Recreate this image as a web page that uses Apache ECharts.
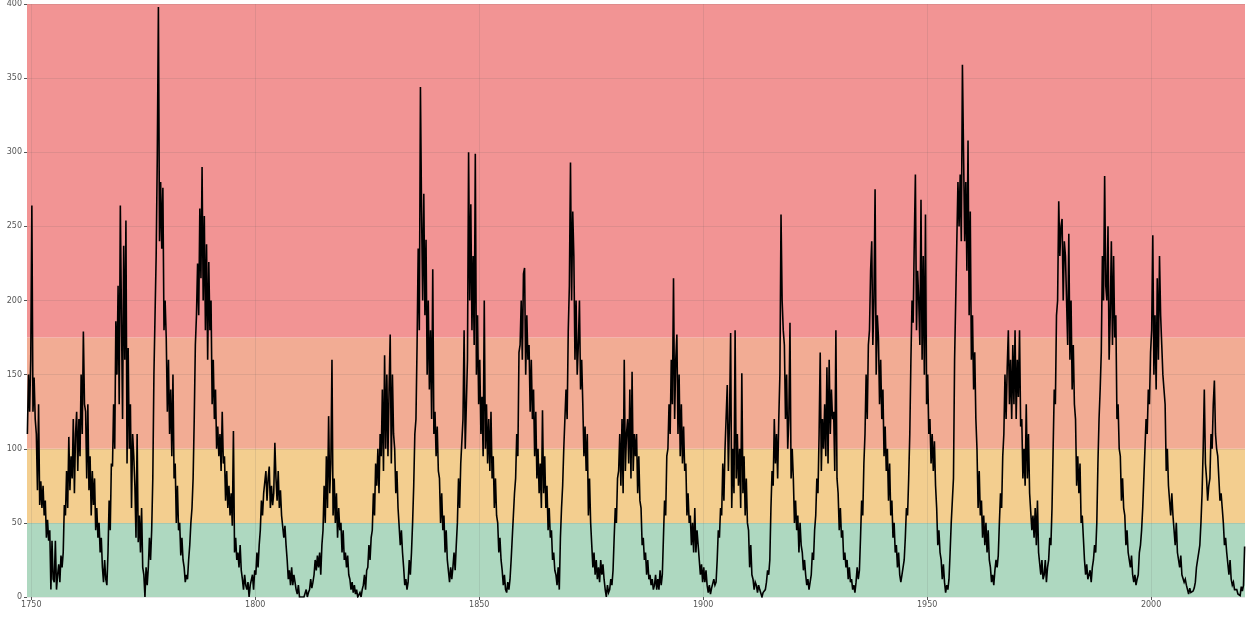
<!DOCTYPE html>
<html>
<head>
<meta charset="utf-8">
<script src="https://cdn.jsdelivr.net/npm/echarts@6/dist/echarts.min.js"></script>
<style>
  html, body { margin: 0; padding: 0; background: #ffffff; }
  #chart { width: 1248px; height: 617px; }
</style>
</head>
<body>
<div id="chart"></div>
<script>
// Sunspot number, four readings per year (one per quarter), grouped by 25-year spans.
// Each row is one calendar year, starting from the year named in the array.
const ssn1749 = [
  [110,150,125,160],[264,125,148,120],[110,72,130,62],[78,60,75,55],[65,40,52,38],
  [45,5,38,12],[10,38,5,15],[22,10,28,20],[30,62,55,85],[60,108,72,95],
  [80,120,70,110],[125,85,120,95],[150,110,179,130],[125,80,130,72],[95,55,85,62],
  [80,45,60,40],[50,30,40,20],[10,25,12,8],[30,65,45,90],[88,130,100,186],
  [150,210,130,264],[190,120,237,160],[254,90,168,100],[130,60,110,95],[75,40,110,37]
];
const ssn1774 = [
  [55,30,60,20],[15,0,20,8],[20,40,25,45],[80,150,190,230],[296,398,240,280],
  [235,276,180,200],[175,125,160,110],[140,95,150,80],[90,50,75,45],[50,28,40,25],
  [20,10,15,12],[25,35,50,60],[80,120,170,190],[225,190,262,215],[290,200,257,180],
  [238,160,226,180],[200,130,160,120],[140,100,115,95],[110,85,125,90],[95,65,85,60],
  [75,55,70,48],[112,30,40,25],[30,20,35,18],[12,5,15,8],[5,10,0,8]
];
const ssn1799 = [
  [8,15,5,18],[15,30,20,35],[45,65,55,70],[70,85,65,80],[88,60,75,62],
  [70,104,80,65],[85,60,72,55],[55,40,48,35],[25,12,18,8],[20,8,15,10],
  [5,2,8,0],[0,0,0,0],[0,5,0,3],[5,12,6,10],[15,25,18,28],
  [20,30,15,35],[45,75,50,95],[60,122,70,90],[160,55,80,50],[70,40,60,45],
  [50,30,45,25],[30,20,28,15],[12,5,10,3],[8,2,5,0],[0,3,0,5]
];
const ssn1824 = [
  [8,15,5,18],[20,35,25,40],[45,70,55,90],[75,100,70,110],[95,140,85,163],
  [100,150,95,140],[177,90,150,110],[100,70,85,60],[60,35,45,30],[20,8,12,5],
  [10,25,15,30],[50,75,110,120],[170,235,180,344],[260,200,272,190],[241,150,200,140],
  [180,120,221,110],[125,95,115,85],[80,50,70,45],[55,30,45,25],[25,10,20,12],
  [20,30,18,35],[50,80,60,90],[90,120,180,100],[130,160,300,200],[265,180,230,170]
];
const ssn1849 = [
  [299,150,190,130],[160,110,135,95],[200,100,130,90],[120,85,125,80],[95,60,80,55],
  [50,30,40,25],[18,8,15,5],[3,10,5,12],[25,40,55,70],[80,110,95,165],
  [170,200,160,218],[222,150,190,160],[170,125,160,120],[140,95,125,80],[100,70,90,60],
  [126,70,95,60],[75,45,60,40],[45,25,30,18],[15,8,20,5],[40,60,75,100],
  [100,140,120,180],[210,293,200,260],[230,160,200,150],[170,200,140,160],[130,95,115,85]
];
const ssn1874 = [
  [110,55,80,50],[35,20,30,15],[25,12,20,10],[25,15,22,12],[5,0,8,3],
  [5,12,8,18],[40,60,50,80],[85,110,75,120],[70,160,85,110],[120,90,140,80],
  [152,85,110,95],[110,70,95,65],[60,35,40,25],[30,15,25,12],[15,8,12,5],
  [8,15,5,12],[5,18,8,15],[40,65,55,95],[100,130,110,160],[130,215,120,160],
  [177,110,150,95],[130,90,115,85],[90,55,70,50],[55,35,50,30],[60,30,45,35]
];
const ssn1899 = [
  [25,15,22,10],[20,10,18,8],[3,8,2,6],[5,12,8,10],[25,45,40,60],
  [55,90,65,100],[100,143,85,120],[178,60,100,70],[180,80,110,75],[100,60,151,70],
  [95,55,80,50],[45,20,35,15],[12,5,10,8],[3,8,5,4],[0,3,2,5],
  [10,18,15,25],[60,85,75,120],[90,110,80,120],[150,258,200,180],[170,120,150,100],
  [120,185,80,100],[80,50,65,45],[55,30,50,35],[30,18,25,15],[8,12,5,10]
];
const ssn1924 = [
  [15,30,25,45],[55,80,70,110],[165,85,120,100],[130,95,155,90],[160,110,140,120],
  [125,85,180,80],[70,45,60,40],[45,25,30,20],[25,12,20,10],[12,5,8,3],
  [10,20,12,18],[40,65,55,90],[110,150,120,170],[180,220,240,170],[200,275,150,190],
  [175,130,160,120],[140,95,115,85],[100,65,90,55],[65,40,50,30],[35,20,30,15],
  [10,15,20,25],[40,60,55,80],[110,160,200,185],[240,285,180,220],[200,170,268,160]
];
const ssn1949 = [
  [230,150,258,130],[150,110,120,90],[110,85,105,75],[60,35,45,30],[25,12,22,10],
  [3,8,5,12],[30,50,65,80],[160,200,240,280],[250,285,240,359],[300,240,280,220],
  [308,190,260,160],[190,140,165,120],[100,60,85,55],[65,40,55,35],[50,30,45,25],
  [20,10,15,8],[18,25,20,28],[50,70,60,95],[110,150,120,155],[180,130,160,120],
  [170,130,180,120],[160,135,180,115],[120,80,100,75],[130,80,110,70],[70,45,55,40]
];
const ssn1974 = [
  [60,35,65,30],[30,15,25,12],[15,25,10,20],[25,40,35,60],[100,140,130,190],
  [200,267,230,250],[255,200,240,230],[230,170,245,160],[200,140,170,130],[120,75,95,70],
  [90,50,55,40],[25,15,22,12],[12,18,10,20],[25,35,30,50],[90,120,140,165],
  [230,200,284,210],[200,250,160,190],[240,170,230,175],[190,120,130,100],[95,65,80,60],
  [55,35,45,30],[30,20,28,15],[10,15,8,12],[15,30,35,45],[60,80,100,120]
];
const ssn1999 = [
  [110,140,130,165],[180,244,150,190],[140,215,160,230],[190,170,150,140],[130,85,100,75],
  [75,55,70,55],[55,35,50,30],[30,20,28,15],[15,10,12,8],[5,2,6,3],
  [2,4,6,10],[20,25,30,35],[50,70,100,140],[90,80,65,75],[80,110,100,130],
  [146,110,100,95],[80,65,70,60],[50,35,40,30],[30,15,25,12],[8,10,5,4],
  [5,2,3,1],[7,4,8,34]
];

const spans = [
  [1749, ssn1749], [1774, ssn1774], [1799, ssn1799], [1824, ssn1824],
  [1849, ssn1849], [1874, ssn1874], [1899, ssn1899], [1924, ssn1924],
  [1949, ssn1949], [1974, ssn1974], [1999, ssn1999]
];

// Activity levels shading the background
const levelEdges = [0, 50, 100, 175, 400];
const levelColors = ['#AED8C0', '#F3CE8F', '#F2AC94', '#F29494'];

const yearTicks = [1750, 1800, 1850, 1900, 1950, 2000];
const valueTicks = [0, 50, 100, 150, 200, 250, 300, 350, 400];

// Place each quarterly reading at the middle of its quarter
const points = [];
spans.forEach(([start, rows]) => {
  rows.forEach((quarters, i) => {
    quarters.forEach((v, k) => {
      points.push([start + i + (k * 3 + 1.5) / 12, v]);
    });
  });
});

const bandAreas = [];
for (let i = 0; i < levelColors.length; i++) {
  bandAreas.push([
    { yAxis: levelEdges[i], itemStyle: { color: levelColors[i], opacity: 1 } },
    { yAxis: levelEdges[i + 1] }
  ]);
}

const labelStyle = { color: '#555555', fontSize: 8, fontFamily: 'DejaVu Sans' };
const gridLine = { show: true, lineStyle: { color: 'rgba(90,90,90,0.13)', width: 1 } };

const chart = echarts.init(document.getElementById('chart'), null, { renderer: 'canvas' });
chart.setOption({
  animation: false,
  backgroundColor: '#ffffff',
  grid: { left: 27, right: 3, top: 3, bottom: 20, containLabel: false },
  xAxis: {
    type: 'value',
    min: 1749.04,
    max: 2020.96,
    z: 2,
    axisLine: { show: false },
    axisTick: { show: true, length: 3, customValues: yearTicks, lineStyle: { color: '#555555' } },
    axisLabel: Object.assign({ margin: 4, customValues: yearTicks, formatter: v => String(v) }, labelStyle),
    splitLine: gridLine
  },
  yAxis: {
    type: 'value',
    min: valueTicks[0],
    max: valueTicks[valueTicks.length - 1],
    interval: 50,
    z: 2,
    axisLine: { show: false },
    axisTick: { show: true, length: 3, lineStyle: { color: '#555555' } },
    axisLabel: Object.assign({ margin: 5 }, labelStyle),
    splitLine: gridLine
  },
  series: [{
    type: 'line',
    z: 3,
    data: points,
    symbol: 'none',
    lineStyle: { color: '#000000', width: 1.6, join: 'miter', miterLimit: 4 },
    markArea: { silent: true, z: 1, data: bandAreas }
  }]
});
</script>
</body>
</html>
